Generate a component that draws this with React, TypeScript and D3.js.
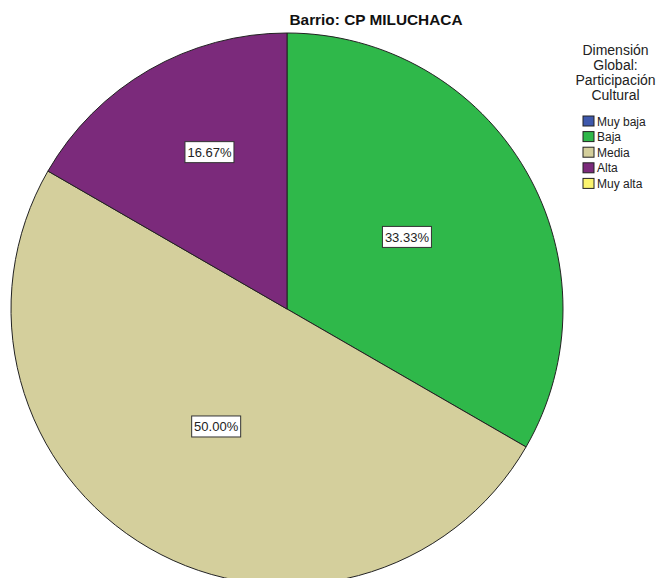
import React from "react";
import * as d3 from "d3";

const categories = ["Muy baja", "Baja", "Media", "Alta", "Muy alta"];
const percents = [0, 33.33, 50.0, 16.67, 0];
const colors = ["#3e58ac", "#2fb84a", "#d4cf9c", "#7b2a7b", "#fbf46e"];
const chartTitle = "Barrio: CP MILUCHACA";
const legendTitle = ["Dimensión", "Global:", "Participación", "Cultural"];
// label placement (layout only): distance from centre as fraction of radius, angle shift in degrees
const labelRadiusFactor = [0.55, 0.507, 0.497, 0.634, 0.55];
const labelAngleShift = [0, -1, 1.1, 3.7, 0];

const W = 664;
const H = 578;
const cx = 287;
const cy = 309;
const R = 276;

export default function App() {
  const data = categories.map((c, i) => ({ c, v: percents[i], i }));
  const pie = d3
    .pie<any>()
    .sort(null)
    .value((d) => d.v)
    .startAngle(0)
    .endAngle(2 * Math.PI);
  const arcs = pie(data).filter((a) => a.data.v > 0);
  const arc = d3.arc<any>().innerRadius(0).outerRadius(R);

  return (
    <svg
      width={W}
      height={H}
      style={{ position: "absolute", left: 0, top: 0, background: "#fff" }}
      fontFamily="Liberation Sans, Arial, sans-serif"
    >
      <g transform={`translate(${cx},${cy})`}>
        {arcs.map((a) => (
          <path
            key={a.data.c}
            d={arc(a) as string}
            fill={colors[a.data.i]}
            stroke="#222"
            strokeWidth={1}
          />
        ))}
        {arcs.map((a) => {
          const mid = (a.startAngle + a.endAngle) / 2 + (labelAngleShift[a.data.i] * Math.PI) / 180;
          const r = R * labelRadiusFactor[a.data.i];
          const x = Math.sin(mid) * r;
          const y = -Math.cos(mid) * r;
          return (
            <g key={a.data.c + "l"} transform={`translate(${x},${y})`}>
              <rect x={-24.5} y={-10.5} width={49} height={21} fill="#fff" stroke="#333" strokeWidth={1} />
              <text textAnchor="middle" dy="0.36em" fontSize={13} fill="#222">
                {a.data.v.toFixed(2) + "%"}
              </text>
            </g>
          );
        })}
      </g>
      <text x={376} y={25} textAnchor="middle" fontWeight="bold" fontSize={15} fill="#111" textLength={173} lengthAdjust="spacingAndGlyphs">
        {chartTitle}
      </text>
      {legendTitle.map((t, i) => (
        <text key={t} x={615.5} y={55 + i * 15} textAnchor="middle" fontSize={14} fill="#222">
          {t}
        </text>
      ))}
      {categories.map((c, i) => (
        <g key={c} transform={`translate(583,${116 + i * 15.6})`}>
          <rect x={0} y={0} width={11} height={10} fill={colors[i]} stroke="#222" strokeWidth={1} />
          <text x={14} y={9.5} fontSize={12} fill="#222">
            {c}
          </text>
        </g>
      ))}
    </svg>
  );
}
